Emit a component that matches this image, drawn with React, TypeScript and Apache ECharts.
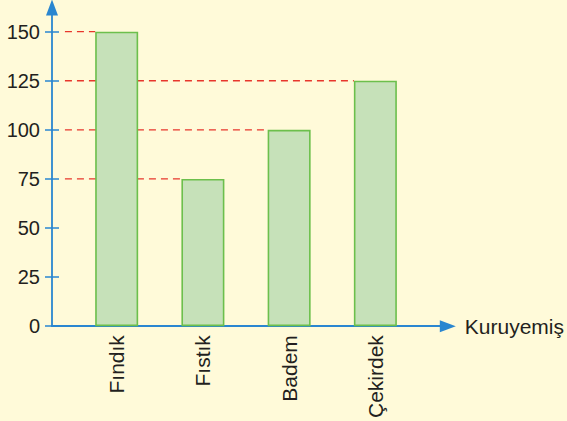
import React, { useEffect, useRef } from "react";
import * as echarts from "echarts";

const categories = ["Fındık", "Fıstık", "Badem", "Çekirdek"];
const values = [150, 75, 100, 125];
const yTicks = [0, 25, 50, 75, 100, 125, 150];
const xPositions = [1, 2, 3, 4];
const axisName = "Kuruyemiş";

const X_MIN = 0.25;
const X_MAX = 4.84;
const Y_MIN = 0;
const Y_MAX = 162.3;
const DASH_START = 0.4;
const BAR_WIDTH = 43;

const AXIS_COLOR = "#2a86d0";
const TEXT_COLOR = "#231f20";
const FONT = "Liberation Sans, Arial, Helvetica, sans-serif";

export default function App() {
  const ref = useRef<HTMLDivElement>(null);
  useEffect(() => {
    if (!ref.current) return;
    const chart = echarts.init(ref.current, undefined, { renderer: "svg" });
    const barData = values.map((v, i) => [xPositions[i], v]);
    chart.setOption({
      animation: false,
      backgroundColor: "#fffad9",
      textStyle: { fontFamily: FONT },
      grid: { left: 52, right: 117, top: 7.5, bottom: 93.7, containLabel: false },
      xAxis: {
        type: "value",
        min: X_MIN,
        max: X_MAX,
        name: axisName,
        nameLocation: "end",
        nameGap: 17,
        nameTextStyle: { color: TEXT_COLOR, fontSize: 21, fontFamily: FONT, verticalAlign: "middle" },
        splitLine: { show: false },
        axisTick: { show: false },
        axisLine: {
          show: true,
          onZero: false,
          symbol: ["none", "triangle"],
          symbolSize: [12, 16],
          lineStyle: { color: AXIS_COLOR, width: 1.8 },
        },
        axisLabel: {
          customValues: xPositions,
          rotate: 90,
          margin: 9,
          color: TEXT_COLOR,
          fontSize: 21,
          fontFamily: FONT,
          formatter: (val: number) => {
            const idx = xPositions.indexOf(Math.round(val));
            return idx >= 0 ? categories[idx] : "";
          },
        },
      },
      yAxis: [
        {
          type: "value",
          min: Y_MIN,
          max: Y_MAX,
          position: "left",
          splitLine: { show: false },
          axisLine: {
            show: true,
            onZero: false,
            symbol: ["none", "triangle"],
            symbolSize: [12, 16],
            lineStyle: { color: AXIS_COLOR, width: 1.8 },
          },
          axisTick: {
            show: true,
            inside: false,
            length: 7,
            customValues: yTicks,
            lineStyle: { color: AXIS_COLOR, width: 1.5 },
          },
          axisLabel: {
            customValues: yTicks,
            margin: 12,
            color: TEXT_COLOR,
            fontSize: 20,
            fontFamily: FONT,
          },
        },
        {
          type: "value",
          min: Y_MIN,
          max: Y_MAX,
          position: "left",
          splitLine: { show: false },
          axisLine: { show: false },
          axisLabel: { show: false },
          axisTick: {
            show: true,
            inside: true,
            length: 7,
            customValues: yTicks,
            lineStyle: { color: AXIS_COLOR, width: 1.5 },
          },
        },
      ],
      series: [
        {
          type: "custom",
          z: 1,
          silent: true,
          data: barData,
          encode: { x: 0, y: 1 },
          renderItem: (params: any, api: any) => {
            const v = api.value(1);
            const start = api.coord([DASH_START, v]);
            const end = api.coord([api.value(0), v]);
            return {
              type: "line",
              shape: { x1: start[0], y1: start[1], x2: end[0] - BAR_WIDTH / 2, y2: end[1] },
              style: { stroke: "#e8362c", lineWidth: 1.3, lineDash: [7, 5] },
            };
          },
        },
        {
          type: "bar",
          z: 3,
          data: barData,
          barWidth: BAR_WIDTH,
          itemStyle: {
            color: "#c6e1b9",
            borderColor: "#6cbf4c",
            borderWidth: 1.6,
          },
        },
      ],
    });
    return () => chart.dispose();
  }, []);
  return (
    <div
      ref={ref}
      style={{ position: "fixed", left: 0, top: 0, width: 567, height: 421 }}
    />
  );
}
